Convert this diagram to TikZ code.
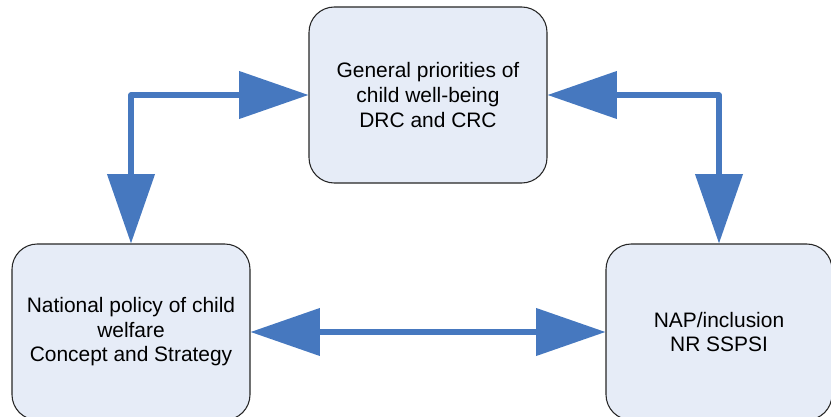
\documentclass[tikz,border=0pt]{standalone}
\usepackage{fontspec}
\setmainfont{Liberation Sans}
\usetikzlibrary{arrows.meta,positioning}
\definecolor{boxfill}{RGB}{230,236,247}
\definecolor{linkblue}{RGB}{70,120,191}

\begin{document}
\begin{tikzpicture}[
    x=0.75pt, y=-0.75pt,
    font=\fontsize{15.7}{18.4}\selectfont,
    prio/.style={draw=black!85, fill=boxfill, rectangle, rounded corners=19pt, line width=0.8pt, align=center, minimum width=178.5pt, minimum height=132pt, inner sep=2pt},
    link/.style={draw=linkblue, line width=3.8pt, line join=round, {Triangle[length=52pt,width=35pt]}-{Triangle[length=52pt,width=35pt]}}
]
\useasboundingbox (0,0) rectangle (831,417);

\node[prio] (gen) at (428,95) {General priorities of\\child well-being\\DRC and CRC};
\node[prio] (nat) at (131,332) {National policy of child\\welfare\\Concept and Strategy};
\node[prio, minimum width=169.5pt] (nap) at (719,332) {NAP/inclusion\\NR SSPSI};

\draw[link] (nat.north) |- (gen.west);
\draw[link] (gen.east) -| (nap.north);
\draw[link] (nat.east) -- (nap.west);

\end{tikzpicture}
\end{document}
